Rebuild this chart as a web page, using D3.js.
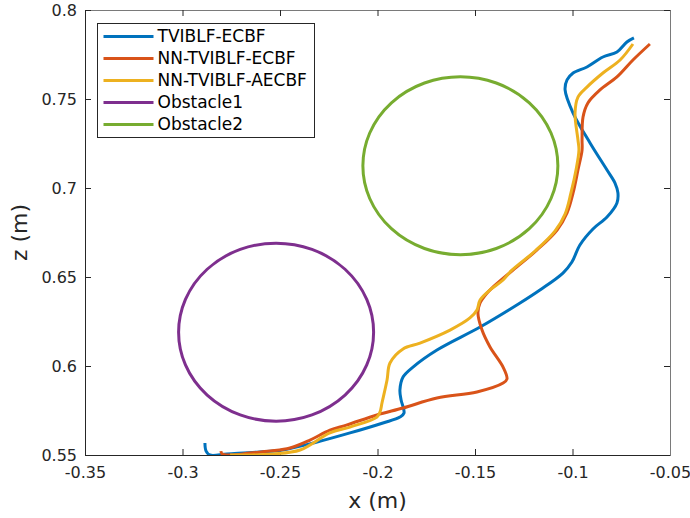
<!DOCTYPE html>
<html>
<head>
<meta charset="utf-8">
<script src="https://cdn.jsdelivr.net/npm/d3@7"></script>
<style>
  body { margin: 0; background: #fff; }
  svg { display: block; font-family: "DejaVu Sans", sans-serif; }
</style>
</head>
<body>
<div id="chart"></div>
<script>
// ---------- data (x, z in metres) ----------
const seriesNames = ["TVIBLF-ECBF", "NN-TVIBLF-ECBF", "NN-TVIBLF-AECBF", "Obstacle1", "Obstacle2"];
const seriesColors = ["#0072BD", "#D95319", "#EDB120", "#7E2F8E", "#77AC30"];

const tviblfEcbf = [
  [-0.2885, 0.5567], [-0.2879, 0.5522], [-0.2859, 0.5500], [-0.2772, 0.5506], [-0.2603, 0.5517],
  [-0.2485, 0.5528], [-0.2310, 0.5573], [-0.2141, 0.5624], [-0.1972, 0.5680], [-0.1885, 0.5713],
  [-0.1864, 0.5736], [-0.1879, 0.5809], [-0.1885, 0.5865], [-0.1869, 0.5938], [-0.1818, 0.5994],
  [-0.1695, 0.6090], [-0.1474, 0.6219], [-0.1269, 0.6354], [-0.1167, 0.6427], [-0.1049, 0.6522],
  [-0.1003, 0.6584], [-0.0962, 0.6680], [-0.0895, 0.6770], [-0.0823, 0.6837], [-0.0772, 0.6916],
  [-0.0767, 0.6972], [-0.0782, 0.7028], [-0.0823, 0.7101], [-0.0910, 0.7253], [-0.0997, 0.7421],
  [-0.1038, 0.7551], [-0.1028, 0.7607], [-0.0997, 0.7646], [-0.0926, 0.7680], [-0.0844, 0.7736],
  [-0.0772, 0.7764], [-0.0721, 0.7820], [-0.0685, 0.7843]
];

const nnTviblfEcbf = [
  [-0.2803, 0.5522], [-0.2797, 0.5506], [-0.2756, 0.5500], [-0.2654, 0.5511], [-0.2551, 0.5522],
  [-0.2449, 0.5539], [-0.2346, 0.5584], [-0.2244, 0.5640], [-0.2156, 0.5669], [-0.2003, 0.5725],
  [-0.1869, 0.5764], [-0.1695, 0.5820], [-0.1490, 0.5854], [-0.1356, 0.5904], [-0.1336, 0.5927],
  [-0.1356, 0.5994], [-0.1423, 0.6107], [-0.1464, 0.6202], [-0.1485, 0.6298], [-0.1474, 0.6354],
  [-0.1438, 0.6410], [-0.1413, 0.6438], [-0.1305, 0.6539], [-0.1182, 0.6652], [-0.1079, 0.6764],
  [-0.1028, 0.6860], [-0.0997, 0.6972], [-0.0972, 0.7101], [-0.0951, 0.7213], [-0.0951, 0.7270],
  [-0.0946, 0.7399], [-0.0921, 0.7478], [-0.0859, 0.7551], [-0.0772, 0.7624], [-0.0690, 0.7719],
  [-0.0603, 0.7809]
];

const nnTviblfAecbf = [
  [-0.2756, 0.5500], [-0.2654, 0.5500], [-0.2536, 0.5506], [-0.2397, 0.5528], [-0.2244, 0.5624],
  [-0.2141, 0.5657], [-0.2003, 0.5713], [-0.1987, 0.5742], [-0.1977, 0.5792], [-0.1951, 0.5921],
  [-0.1936, 0.6017], [-0.1869, 0.6096], [-0.1782, 0.6129], [-0.1628, 0.6202], [-0.1526, 0.6270],
  [-0.1490, 0.6315], [-0.1474, 0.6371], [-0.1423, 0.6427], [-0.1356, 0.6483], [-0.1315, 0.6534],
  [-0.1192, 0.6646], [-0.1090, 0.6758], [-0.1038, 0.6854], [-0.1008, 0.6972], [-0.0982, 0.7101],
  [-0.0967, 0.7213], [-0.0972, 0.7270], [-0.0987, 0.7421], [-0.0972, 0.7511], [-0.0926, 0.7567],
  [-0.0844, 0.7646], [-0.0756, 0.7719], [-0.0690, 0.7809]
];

// obstacles: centre x, centre z, radius
const obstacleCenters = [[-0.252, 0.619], [-0.1575, 0.7125]];
const obstacleRadius = [0.05, 0.05];

const xTicks = [-0.35, -0.3, -0.25, -0.2, -0.15, -0.1, -0.05];
const yTicks = [0.55, 0.6, 0.65, 0.7, 0.75, 0.8];

// ---------- layout ----------
const width = 690, height = 518;
const margin = { left: 85, right: 20, top: 10, bottom: 63 };

const svg = d3.select("#chart").append("svg")
  .attr("width", width)
  .attr("height", height);

const x = d3.scaleLinear().domain([-0.35, -0.05]).range([margin.left, width - margin.right]);
const y = d3.scaleLinear().domain([0.55, 0.8]).range([height - margin.bottom, margin.top]);

const axisColor = "#262626";

// clip so curves stay inside the box
svg.append("clipPath").attr("id", "plotClip")
  .append("rect")
  .attr("x", margin.left).attr("y", margin.top)
  .attr("width", width - margin.left - margin.right)
  .attr("height", height - margin.top - margin.bottom);

// ---------- axes ----------
const fmt = d => String(+d.toFixed(2));

const xAxis = svg.append("g")
  .attr("transform", `translate(0,${y(0.55)})`)
  .call(d3.axisBottom(x).tickValues(xTicks).tickSize(-6).tickPadding(12).tickFormat(fmt));

const xTop = svg.append("g")
  .attr("transform", `translate(0,${y(0.8)})`)
  .call(d3.axisTop(x).tickValues(xTicks).tickSize(-6).tickFormat(""));

const yAxis = svg.append("g")
  .attr("transform", `translate(${x(-0.35)},0)`)
  .call(d3.axisLeft(y).tickValues(yTicks).tickSize(-6).tickPadding(8).tickFormat(fmt));

const yRight = svg.append("g")
  .attr("transform", `translate(${x(-0.05)},0)`)
  .call(d3.axisRight(y).tickValues(yTicks).tickSize(-6).tickFormat(""));

[xAxis, yAxis].forEach(g => {
  g.selectAll(".domain").attr("stroke", axisColor);
  g.selectAll(".tick line").attr("stroke", axisColor);
  g.selectAll(".tick text")
    .attr("fill", axisColor)
    .style("font-size", "16px")
    .style("font-family", "DejaVu Sans, sans-serif");
});
[xTop, yRight].forEach(g => {
  g.selectAll(".domain").attr("stroke", "#7a7a7a");
  g.selectAll(".tick line").attr("stroke", axisColor);
});

// axis labels
svg.append("text")
  .attr("x", (x(-0.35) + x(-0.05)) / 2)
  .attr("y", 508)
  .attr("text-anchor", "middle")
  .attr("fill", axisColor)
  .style("font-size", "22px")
  .text("x (m)");

svg.append("text")
  .attr("transform", `translate(27,${(y(0.55) + y(0.8)) / 2}) rotate(-90)`)
  .attr("text-anchor", "middle")
  .attr("fill", axisColor)
  .style("font-size", "22px")
  .text("z (m)");

// ---------- marks ----------
const plot = svg.append("g").attr("clip-path", "url(#plotClip)");

const line = d3.line()
  .x(d => x(d[0]))
  .y(d => y(d[1]))
  .curve(d3.curveCatmullRom.alpha(0.5));

const trajectories = [tviblfEcbf, nnTviblfEcbf, nnTviblfAecbf];
trajectories.forEach((pts, i) => {
  plot.append("path")
    .datum(pts)
    .attr("d", line)
    .attr("fill", "none")
    .attr("stroke", seriesColors[i])
    .attr("stroke-width", 3)
    .attr("stroke-linejoin", "round")
    .attr("stroke-linecap", "butt");
});

// obstacles drawn as ellipses so the radius goes through both scales
obstacleCenters.forEach((c, i) => {
  const r = obstacleRadius[i];
  plot.append("ellipse")
    .attr("cx", x(c[0]))
    .attr("cy", y(c[1]))
    .attr("rx", x(c[0] + r) - x(c[0]))
    .attr("ry", y(c[1]) - y(c[1] + r))
    .attr("fill", "none")
    .attr("stroke", seriesColors[3 + i])
    .attr("stroke-width", 3);
});

// ---------- legend ----------
const legend = svg.append("g").attr("transform", "translate(97.5,23.5)");
legend.append("rect")
  .attr("width", 217)
  .attr("height", 114)
  .attr("fill", "#fff")
  .attr("stroke", axisColor)
  .attr("stroke-width", 1);

seriesNames.forEach((name, i) => {
  const row = legend.append("g").attr("transform", `translate(0,${13 + i * 22})`);
  row.append("line")
    .attr("x1", 6).attr("x2", 56)
    .attr("stroke", seriesColors[i])
    .attr("stroke-width", 3);
  row.append("text")
    .attr("x", 60)
    .attr("dy", "0.35em")
    .attr("fill", "#000")
    .style("font-size", "17px")
    .text(name);
});
</script>
</body>
</html>
